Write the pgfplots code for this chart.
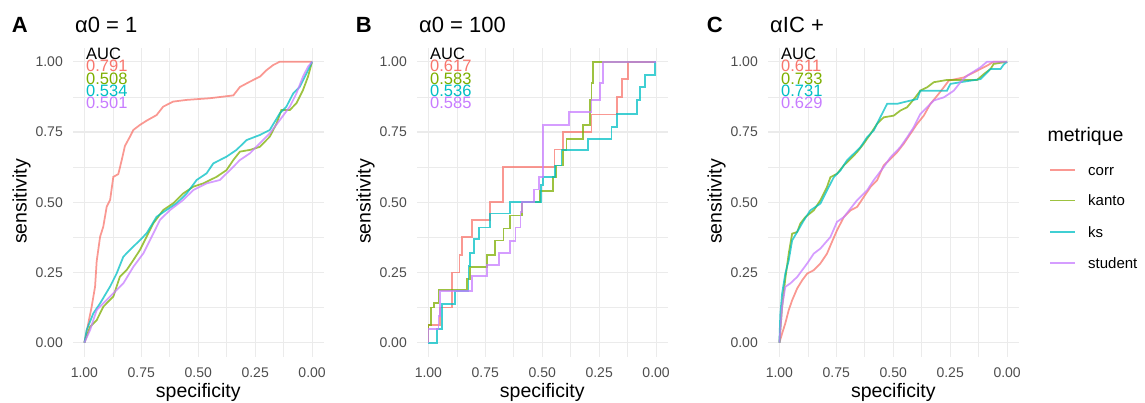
\documentclass[border=0pt]{standalone}
\usepackage{fontspec}
\setmainfont{Liberation Sans}
\usepackage{pgfplots}
\pgfplotsset{compat=1.18}
\definecolor{corr}{HTML}{F8766D}
\definecolor{kanto}{HTML}{7CAE00}
\definecolor{ks}{HTML}{00BFC4}
\definecolor{student}{HTML}{C77CFF}
\definecolor{gridc}{HTML}{EBEBEB}
\definecolor{tickc}{HTML}{4D4D4D}
\newcommand\ticksize{\fontsize{14}{16}\selectfont}
\newcommand\aucsize{\fontsize{16.5}{18}\selectfont}
\newcommand\labsize{\fontsize{19.5}{22}\selectfont}
\newcommand\titsize{\fontsize{22}{24}\selectfont}
\newcommand\legsize{\fontsize{15}{17}\selectfont}
\tikzset{
  rl/.style={line width=1.75pt, draw opacity=0.75},
  auc/.style={anchor=base west, inner sep=0pt, font=\aucsize},
}
\pgfplotsset{
  rocax/.style={
    width=250.5pt, height=309.1pt, scale only axis,
    xmin=-0.05, xmax=1.05, ymin=-0.05, ymax=1.05, x dir=reverse,
    xtick={0,0.25,0.5,0.75,1}, xticklabels={0.00,0.25,0.50,0.75,1.00},
    ytick={0,0.25,0.5,0.75,1}, yticklabels={0.00,0.25,0.50,0.75,1.00},
    minor xtick={0.125,0.375,0.625,0.875},
    minor ytick={0.125,0.375,0.625,0.875},
    grid=both,
    major grid style={gridc, line width=1.2pt},
    minor grid style={gridc, line width=0.6pt},
    axis line style={draw=none},
    major tick length=0pt, minor tick length=0pt,
    tick label style={font=\ticksize, text=tickc},
    xticklabel style={inner sep=0pt, anchor=north, yshift=-11pt},
    yticklabel style={inner sep=0pt, anchor=east, xshift=-10pt},
  },
}
\begin{document}
\begin{tikzpicture}[x=1pt,y=1pt]
\useasboundingbox (0,0) rectangle (1145,403);

% ---------------- Panel A
\begin{axis}[rocax, at={(73pt,46.25pt)}, anchor=south west]
\addplot[rl, corr] coordinates {(1,0)(0.985,0.06)(0.968,0.128)(0.953,0.2)(0.946,0.29)(0.931,0.377)(0.917,0.413)(0.902,0.484)(0.887,0.508)(0.873,0.59)(0.851,0.6)(0.836,0.65)(0.822,0.70)(0.800,0.733)(0.785,0.757)(0.756,0.775)(0.727,0.79)(0.683,0.81)(0.654,0.84)(0.610,0.858)(0.551,0.864)(0.449,0.87)(0.346,0.88)(0.317,0.91)(0.273,0.929)(0.229,0.947)(0.200,0.97)(0.171,0.988)(0.142,1.0)(0,1)};
\addplot[rl, kanto] coordinates {(1,0)(0.975,0.057)(0.946,0.08)(0.917,0.128)(0.873,0.164)(0.844,0.235)(0.814,0.259)(0.785,0.294)(0.756,0.33)(0.727,0.377)(0.697,0.425)(0.654,0.472)(0.610,0.496)(0.566,0.531)(0.522,0.555)(0.478,0.567)(0.420,0.59)(0.376,0.614)(0.346,0.65)(0.317,0.68)(0.273,0.686)(0.230,0.697)(0.186,0.733)(0.156,0.78)(0.135,0.828)(0.098,0.828)(0.069,0.852)(0.040,0.899)(0.018,0.947)(0,1)};
\addplot[rl, ks] coordinates {(1,0)(0.990,0.045)(0.961,0.104)(0.931,0.14)(0.887,0.2)(0.858,0.247)(0.829,0.306)(0.800,0.33)(0.756,0.365)(0.727,0.389)(0.683,0.448)(0.640,0.472)(0.595,0.496)(0.551,0.531)(0.507,0.579)(0.463,0.603)(0.434,0.638)(0.376,0.662)(0.332,0.686)(0.288,0.721)(0.230,0.739)(0.186,0.757)(0.142,0.816)(0.113,0.84)(0.083,0.887)(0.054,0.911)(0.025,0.958)(0,1)};
\addplot[rl, student] coordinates {(1,0)(0.975,0.045)(0.946,0.116)(0.917,0.14)(0.873,0.176)(0.829,0.211)(0.785,0.27)(0.741,0.318)(0.697,0.389)(0.668,0.437)(0.624,0.472)(0.566,0.508)(0.522,0.543)(0.463,0.567)(0.405,0.579)(0.361,0.614)(0.317,0.65)(0.273,0.674)(0.230,0.709)(0.186,0.745)(0.142,0.792)(0.098,0.84)(0.069,0.887)(0.040,0.947)(0.018,0.982)(0,1)};
\node[auc] at (axis cs:0.993,1.008) {AUC};
\node[auc, text=corr] at (axis cs:0.993,0.964) {0.791};
\node[auc, text=kanto] at (axis cs:0.993,0.920) {0.508};
\node[auc, text=ks] at (axis cs:0.993,0.876) {0.534};
\node[auc, text=student] at (axis cs:0.993,0.833) {0.501};
\end{axis}

% ---------------- Panel B
\begin{axis}[rocax, at={(417pt,46.25pt)}, anchor=south west]
\addplot[rl, corr, const plot] coordinates {(1,0)(1,0.0625)(0.949,0.125)(0.897,0.25)(0.863,0.3125)(0.853,0.375)(0.809,0.4375)(0.728,0.5)(0.672,0.625)(0.446,0.6875)(0.409,0.75)(0.284,0.8125)(0.171,0.875)(0.151,0.9375)(0.122,1)(0,1)};
\addplot[rl, kanto, const plot] coordinates {(1,0)(1,0.0625)(0.99,0.125)(0.975,0.14)(0.956,0.1875)(0.831,0.226)(0.816,0.27)(0.743,0.3125)(0.706,0.364)(0.670,0.406)(0.640,0.453)(0.590,0.5)(0.509,0.541)(0.453,0.589)(0.438,0.631)(0.409,0.685)(0.394,0.726)(0.321,0.774)(0.291,0.863)(0.284,0.923)(0.276,1)(0,1)};
\addplot[rl, ks, const plot] coordinates {(1,0)(0.963,0.048)(0.941,0.137)(0.882,0.185)(0.824,0.274)(0.816,0.32)(0.80,0.37)(0.779,0.41)(0.728,0.46)(0.640,0.5)(0.507,0.56)(0.497,0.589)(0.444,0.631)(0.415,0.685)(0.298,0.726)(0.196,0.768)(0.171,0.815)(0.085,0.863)(0.071,0.911)(0.049,0.952)(0.004,1)(0,1)};
\addplot[rl, student, const plot] coordinates {(1,0)(1,0.048)(0.956,0.095)(0.949,0.185)(0.809,0.238)(0.743,0.276)(0.691,0.32)(0.640,0.363)(0.618,0.41)(0.596,0.464)(0.588,0.5)(0.537,0.545)(0.515,0.589)(0.497,0.774)(0.382,0.821)(0.284,0.863)(0.247,0.923)(0.232,1)(0,1)};
\node[auc] at (axis cs:0.993,1.008) {AUC};
\node[auc, text=corr] at (axis cs:0.993,0.964) {0.617};
\node[auc, text=kanto] at (axis cs:0.993,0.920) {0.583};
\node[auc, text=ks] at (axis cs:0.993,0.876) {0.536};
\node[auc, text=student] at (axis cs:0.993,0.833) {0.585};
\end{axis}

% ---------------- Panel C
\begin{axis}[rocax, at={(768pt,46.25pt)}, anchor=south west]
\addplot[rl, corr] coordinates {(1,0)(0.988,0.033)(0.974,0.069)(0.959,0.116)(0.944,0.151)(0.922,0.193)(0.900,0.222)(0.878,0.246)(0.849,0.258)(0.820,0.282)(0.791,0.317)(0.769,0.359)(0.747,0.4)(0.717,0.447)(0.688,0.471)(0.659,0.483)(0.630,0.518)(0.600,0.554)(0.571,0.578)(0.542,0.631)(0.512,0.654)(0.483,0.678)(0.454,0.708)(0.425,0.743)(0.395,0.779)(0.366,0.808)(0.337,0.850)(0.307,0.879)(0.278,0.909)(0.256,0.933)(0.190,0.944)(0.146,0.962)(0.088,0.986)(0.059,1)(0,1)};
\addplot[rl, kanto] coordinates {(1,0)(0.988,0.128)(0.974,0.228)(0.959,0.317)(0.944,0.388)(0.922,0.394)(0.908,0.424)(0.886,0.447)(0.849,0.471)(0.820,0.507)(0.791,0.554)(0.776,0.589)(0.747,0.601)(0.717,0.631)(0.688,0.654)(0.659,0.678)(0.630,0.708)(0.600,0.743)(0.571,0.779)(0.542,0.802)(0.498,0.808)(0.469,0.826)(0.439,0.838)(0.403,0.873)(0.381,0.897)(0.351,0.909)(0.322,0.927)(0.264,0.935)(0.132,0.935)(0.102,0.956)(0.073,0.974)(0.059,0.992)(0,1)};
\addplot[rl, ks] coordinates {(1,0)(0.996,0.1)(0.988,0.175)(0.974,0.246)(0.959,0.293)(0.944,0.364)(0.922,0.394)(0.893,0.435)(0.864,0.471)(0.820,0.495)(0.791,0.542)(0.761,0.589)(0.732,0.613)(0.703,0.649)(0.674,0.672)(0.644,0.696)(0.615,0.731)(0.586,0.755)(0.542,0.826)(0.527,0.850)(0.483,0.850)(0.454,0.856)(0.395,0.867)(0.381,0.897)(0.264,0.897)(0.249,0.921)(0.205,0.927)(0.117,0.938)(0.073,0.974)(0.029,0.974)(0.015,0.99)(0,1)};
\addplot[rl, student] coordinates {(1,0)(0.988,0.128)(0.974,0.199)(0.952,0.211)(0.922,0.234)(0.900,0.258)(0.878,0.282)(0.849,0.317)(0.820,0.335)(0.776,0.376)(0.747,0.43)(0.717,0.447)(0.688,0.477)(0.659,0.507)(0.615,0.542)(0.586,0.578)(0.542,0.625)(0.512,0.660)(0.469,0.696)(0.439,0.731)(0.410,0.767)(0.381,0.814)(0.351,0.838)(0.322,0.862)(0.278,0.873)(0.234,0.897)(0.205,0.927)(0.176,0.95)(0.117,0.98)(0.088,1)(0,1)};
\node[auc] at (axis cs:0.993,1.008) {AUC};
\node[auc, text=corr] at (axis cs:0.993,0.964) {0.611};
\node[auc, text=kanto] at (axis cs:0.993,0.920) {0.733};
\node[auc, text=ks] at (axis cs:0.993,0.876) {0.731};
\node[auc, text=student] at (axis cs:0.993,0.833) {0.629};
\end{axis}

% ---------------- titles and labels
\foreach \bx/\tag/\tit in {73/A/{α0 = 1},417/B/{α0 = 100},768/C/{αIC +}}{
  \node[anchor=base west, inner sep=0pt, font=\titsize\bfseries] at (\bx-61.3,370.5) {\tag};
  \node[anchor=base west, inner sep=0pt, font=\titsize] at (\bx+2,370.5) {\tit};
  \node[anchor=base, inner sep=0pt, font=\labsize] at (\bx+125.25,5) {specificity};
  \node[anchor=base, inner sep=0pt, font=\labsize, rotate=90] at (\bx-46.5,201.5) {sensitivity};
}

% ---------------- legend
\node[anchor=base west, inner sep=0pt, font=\labsize] at (1047.3,261.3) {metrique};
\draw[corr, rl] (1050,233) -- (1075,233);
\draw[kanto, rl] (1050,202.5) -- (1075,202.5);
\draw[ks, rl] (1050,171.3) -- (1075,171.3);
\draw[student, rl] (1050,140.3) -- (1075,140.3);
\node[anchor=base west, inner sep=0pt, font=\legsize] at (1088,227.5) {corr};
\node[anchor=base west, inner sep=0pt, font=\legsize] at (1088,197) {kanto};
\node[anchor=base west, inner sep=0pt, font=\legsize] at (1088,165.8) {ks};
\node[anchor=base west, inner sep=0pt, font=\legsize] at (1088,134.8) {student};
\end{tikzpicture}
\end{document}
